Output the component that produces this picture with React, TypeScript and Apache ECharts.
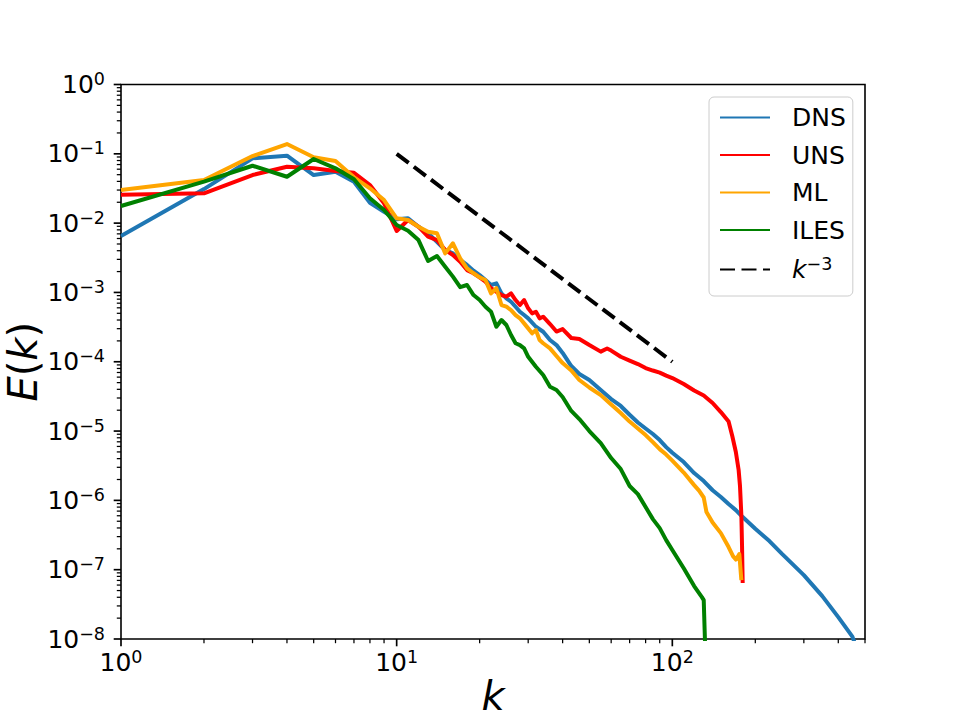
import React, { useEffect, useRef } from 'react';
import * as echarts from 'echarts';

// Energy spectra as [k, E(k)] pairs
const DNS: [number, number][] = [
  [1, 6.52e-3], [2, 3.1e-2], [3, 8.61e-2], [4, 9.39e-2], [5, 4.94e-2], [6, 5.52e-2], [7, 3.96e-2], [8, 1.97e-2], [9, 1.46e-2], [10, 1.135e-2],
  [11, 1.172e-2], [12, 8.87e-3], [13, 7.13e-3], [14, 5.39e-3], [15, 4.09e-3], [16, 3.66e-3], [17, 2.94e-3], [18, 2.49e-3], [19, 2.06e-3], [20, 1.78e-3],
  [21, 1.51e-3], [22, 1.28e-3], [23, 1.35e-3], [24, 9.7e-4], [25, 8.22e-4], [26, 7.34e-4], [27, 6.22e-4], [28, 5.27e-4], [29, 4.72e-4], [30, 4.23e-4],
  [32, 3.2e-4], [34, 2.71e-4], [36, 2.06e-4], [38, 1.74e-4], [40, 1.34e-4], [43, 8.67e-5], [46, 6.65e-5], [50, 5.45e-5], [55, 3.91e-5], [60, 2.9e-5],
  [65, 2.3e-5], [70, 1.72e-5], [75, 1.33e-5], [80, 1.09e-5], [85, 9.06e-6], [90, 7.41e-6], [95, 5.87e-6], [100, 4.86e-6], [110, 3.57e-6], [120, 2.48e-6],
  [130, 1.9e-6], [140, 1.4e-6], [150, 1.12e-6], [160, 8.85e-7], [170, 7.24e-7], [180, 5.74e-7], [200, 3.89e-7], [225, 2.59e-7], [250, 1.69e-7], [300, 8.36e-8],
  [350, 4.16e-8], [400, 2.07e-8], [450, 1.08e-8], [460, 8.5e-9],
];

const UNS: [number, number][] = [
  [1, 2.57e-2], [2, 2.69e-2], [3, 4.94e-2], [4, 6.52e-2], [5, 6.18e-2], [6, 5.65e-2], [7, 5.33e-2], [8, 3.55e-2], [9, 1.93e-2], [10, 7.69e-3],
  [11, 1.11e-2], [12, 8.87e-3], [13, 6.37e-3], [14, 5.7e-3], [15, 4.09e-3], [16, 3.47e-3], [17, 2.77e-3], [18, 2.1e-3], [19, 1.89e-3], [20, 1.65e-3],
  [21, 1.43e-3], [22, 1.15e-3], [23, 1.02e-3], [24, 9.17e-4], [25, 8.67e-4], [26, 9.7e-4], [27, 7.77e-4], [28, 6.58e-4], [29, 7.77e-4], [30, 5.9e-4],
  [31, 4.99e-4], [32, 5.27e-4], [33, 4.23e-4], [34, 4.46e-4], [36, 3.5e-4], [38, 2.73e-4], [40, 2.96e-4], [43, 2.2e-4], [46, 2.13e-4], [50, 1.74e-4],
  [55, 1.4e-4], [58, 1.55e-4], [60, 1.45e-4], [65, 1.18e-4], [70, 1.04e-4], [75, 9.27e-5], [80, 8.11e-5], [85, 7.47e-5], [90, 6.98e-5], [95, 6.32e-5],
  [100, 5.82e-5], [110, 4.77e-5], [120, 3.84e-5], [130, 3.25e-5], [140, 2.54e-5], [150, 1.88e-5], [160, 1.37e-5], [165, 8.47e-6], [170, 4.98e-6], [174, 2.74e-6],
  [176, 1.61e-6], [178, 6.14e-7], [179, 2.26e-7], [180, 6.41e-8],
];

const ML: [number, number][] = [
  [1, 3.0e-2], [2, 4.19e-2], [3, 9.29e-2], [4, 1.384e-1], [5, 8.91e-2], [6, 7.87e-2], [7, 4.58e-2], [8, 3.18e-2], [9, 2.15e-2], [10, 1.172e-2],
  [11, 1.109e-2], [12, 8.87e-3], [13, 7.51e-3], [14, 7.13e-3], [15, 3.66e-3], [16, 5.11e-3], [17, 3.1e-3], [18, 2.23e-3], [19, 1.89e-3], [20, 1.65e-3],
  [21, 1.51e-3], [22, 9.7e-4], [23, 1.15e-3], [24, 6.58e-4], [25, 6.22e-4], [26, 5.57e-4], [27, 4.72e-4], [28, 4.23e-4], [29, 3.58e-4], [30, 3.03e-4],
  [31, 2.57e-4], [32, 2.86e-4], [33, 2.06e-4], [34, 1.85e-4], [36, 1.56e-4], [38, 1.21e-4], [40, 9.57e-5], [43, 7.47e-5], [46, 5.45e-5], [50, 4.25e-5],
  [55, 3.3e-5], [60, 2.41e-5], [65, 1.82e-5], [70, 1.37e-5], [75, 1.09e-5], [80, 8.75e-6], [85, 6.93e-6], [90, 5.49e-6], [95, 4.58e-6], [100, 3.75e-6],
  [110, 2.52e-6], [120, 1.66e-6], [125, 1.38e-6], [130, 1.1e-6], [133, 6.78e-7], [140, 4.78e-7], [150, 3.37e-7], [160, 2.12e-7], [166, 1.57e-7], [170, 1.4e-7],
  [173, 1.55e-7], [175, 1.68e-7], [178, 7.08e-8],
];

const ILES: [number, number][] = [
  [1, 1.766e-2], [2, 3.96e-2], [3, 6.73e-2], [4, 4.67e-2], [5, 8.41e-2], [6, 6.18e-2], [7, 4.29e-2], [8, 2.28e-2], [9, 1.545e-2], [10, 9.39e-3],
  [11, 7.77e-3], [12, 5.7e-3], [13, 2.84e-3], [14, 3.35e-3], [15, 2.35e-3], [16, 1.69e-3], [17, 1.19e-3], [18, 1.28e-3], [19, 9.17e-4], [20, 7.77e-4],
  [21, 6.22e-4], [22, 5.27e-4], [23, 3.2e-4], [24, 4.0e-4], [25, 3.39e-4], [26, 2.43e-4], [27, 1.85e-4], [28, 1.74e-4], [29, 1.56e-4], [30, 1.18e-4],
  [32, 8.47e-5], [34, 6.43e-5], [36, 4.36e-5], [38, 3.91e-5], [40, 3.1e-5], [43, 1.95e-5], [46, 1.49e-5], [50, 1.0e-5], [55, 6.71e-6], [60, 4.08e-6],
  [65, 2.83e-6], [70, 1.61e-6], [75, 1.23e-6], [80, 8.0e-7], [85, 5.37e-7], [90, 3.98e-7], [95, 2.67e-7], [100, 1.92e-7], [110, 1.05e-7], [120, 5.8e-8],
  [128, 4.02e-8], [130, 3.64e-8], [131, 1.34e-8], [132, 5.0e-9],
];

// Reference slope k^-3 between k = 10 and k = 100
const K3_REF: [number, number][] = [[10, 1e-1], [100, 1e-4]];

// Axis ranges and tick positions
const X_MIN = 1;
const X_MAX = 500;
const Y_MIN = 1e-8;
const Y_MAX = 1;
const X_DECADES = [1, 10, 100];
const Y_DECADES = [1, 1e-1, 1e-2, 1e-3, 1e-4, 1e-5, 1e-6, 1e-7, 1e-8];
const MINOR_STEPS = [2, 3, 4, 5, 6, 7, 8, 9];

const FONT = 'DejaVu Sans';
const MAJOR_LEN = 7.3;
const MINOR_LEN = 4.2;
const LINE_W = 4;

const decadeLabel = (v: number) => {
  const e = Math.log10(v);
  const r = Math.round(e);
  if (Math.abs(e - r) > 1e-6) return '';
  return `{b|10}{s|${r < 0 ? '\u2212' + -r : String(r)}}`;
};

const tickRich = {
  b: { fontFamily: FONT, fontSize: 25, lineHeight: 30, color: '#000' },
  s: { fontFamily: FONT, fontSize: 17.5, lineHeight: 19, padding: [0, 0, 11, 0], color: '#000' },
};

function buildTicks() {
  const ticks: number[][] = [];
  // [x, y, length, orientation]; orientation 0 = bottom axis, 1 = left axis
  X_DECADES.forEach((d) => {
    ticks.push([d, Y_MIN, MAJOR_LEN, 0]);
    MINOR_STEPS.forEach((m) => {
      const v = d * m;
      if (v <= X_MAX) ticks.push([v, Y_MIN, MINOR_LEN, 0]);
    });
  });
  Y_DECADES.forEach((d) => {
    ticks.push([X_MIN, d, MAJOR_LEN, 1]);
    if (d < Y_MAX) {
      MINOR_STEPS.forEach((m) => ticks.push([X_MIN, d * m, MINOR_LEN, 1]));
    }
  });
  return ticks;
}

export default function App() {
  const ref = useRef<HTMLDivElement>(null);

  useEffect(() => {
    const el = ref.current;
    if (!el) return;
    const chart = echarts.init(el, undefined, { renderer: 'svg' });

    const lineSeries = (name: string, data: [number, number][], color: string, dashed = false) => ({
      type: 'line',
      name,
      data,
      symbol: 'none',
      showSymbol: false,
      silent: true,
      lineStyle: {
        color,
        width: LINE_W,
        type: dashed ? [15, 6.5] : 'solid',
        join: 'round',
      },
      itemStyle: { color },
    });

    const option: any = {
      animation: false,
      backgroundColor: '#ffffff',
      textStyle: { fontFamily: FONT },
      grid: {
        left: 121,
        right: 96,
        top: 84.5,
        bottom: 80,
        show: true,
        borderColor: '#000',
        borderWidth: 1.6,
        backgroundColor: 'transparent',
        containLabel: false,
        outerBoundsMode: 'none',
      },
      legend: {
        data: ['DNS', 'UNS', 'ML', 'ILES', 'k3'],
        orient: 'vertical',
        left: 709,
        top: 97,
        padding: [8, 7, 12, 10],
        itemWidth: 50,
        itemHeight: 14,
        itemGap: 12.5,
        selectedMode: false,
        backgroundColor: 'rgba(255,255,255,0.8)',
        borderColor: '#cccccc',
        borderWidth: 1,
        borderRadius: 5,
        // only the line handle is shown, no marker on it
        itemStyle: { color: 'rgba(0,0,0,0)', borderWidth: 0, opacity: 0 },
        formatter: (name: string) => (name === 'k3' ? '{i|k}{s|\u22123}' : name),
        textStyle: {
          fontFamily: FONT,
          fontSize: 25,
          lineHeight: 24,
          color: '#000',
          padding: [0, 0, 0, 17],
          rich: {
            i: { fontFamily: FONT, fontStyle: 'italic', fontSize: 25, lineHeight: 24, color: '#000' },
            s: { fontFamily: FONT, fontSize: 17.5, lineHeight: 13, padding: [0, 0, 11, 0], color: '#000' },
          },
        },
      },
      xAxis: {
        type: 'log',
        logBase: 10,
        min: X_MIN,
        max: X_MAX,
        axisLine: { show: false },
        axisTick: { show: false },
        minorTick: { show: false },
        splitLine: { show: false },
        axisLabel: { margin: 8, formatter: decadeLabel, rich: tickRich, showMaxLabel: false },
        name: 'k',
        nameLocation: 'middle',
        nameGap: 37,
        nameMoveOverlap: false,
        nameTextStyle: { fontFamily: FONT, fontStyle: 'italic', fontSize: 40, lineHeight: 40, color: '#000' },
      },
      yAxis: {
        type: 'log',
        logBase: 10,
        min: Y_MIN,
        max: Y_MAX,
        axisLine: { show: false },
        axisTick: { show: false },
        minorTick: { show: false },
        splitLine: { show: false },
        axisLabel: { margin: 16, formatter: decadeLabel, rich: tickRich },
        name: '{i|E}{n|(}{i|k}{n|)}',
        nameLocation: 'middle',
        nameRotate: 90,
        nameGap: 82,
        nameMoveOverlap: false,
        nameTextStyle: {
          rich: {
            i: { fontFamily: FONT, fontStyle: 'italic', fontSize: 40, lineHeight: 32, color: '#000' },
            n: { fontFamily: FONT, fontSize: 40, lineHeight: 32, color: '#000' },
          },
        },
      },
      series: [
        lineSeries('DNS', DNS, '#1f77b4'),
        lineSeries('UNS', UNS, '#ff0000'),
        lineSeries('ML', ML, '#ffa500'),
        lineSeries('ILES', ILES, '#008000'),
        lineSeries('k3', K3_REF, '#000000', true),
        {
          type: 'custom',
          name: 'ticks',
          silent: true,
          clip: false,
          z: 5,
          data: buildTicks(),
          renderItem: (_params: any, api: any) => {
            const p = api.coord([api.value(0), api.value(1)]);
            const len = api.value(2);
            const onBottom = api.value(3) === 0;
            return {
              type: 'line',
              shape: onBottom
                ? { x1: p[0], y1: p[1], x2: p[0], y2: p[1] + len }
                : { x1: p[0] - len, y1: p[1], x2: p[0], y2: p[1] },
              style: { stroke: '#000', lineWidth: len > 5 ? 1.67 : 1.25 },
            };
          },
        },
      ],
    };

    chart.setOption(option);
    return () => chart.dispose();
  }, []);

  return <div ref={ref} style={{ position: 'fixed', left: 0, top: 0, width: 961, height: 719 }} />;
}
